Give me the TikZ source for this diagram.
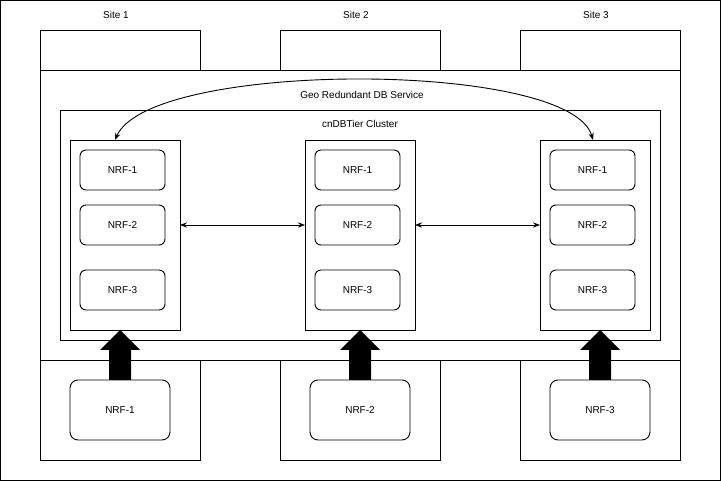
\documentclass[tikz,border=0pt]{standalone}
\usepackage{fontspec}
\setmainfont{Liberation Sans}
\usetikzlibrary{arrows.meta, positioning}

\tikzset{
    nrf/.style = {draw, rounded corners = 6pt, minimum width = 85pt, minimum height = 40pt},
    big/.style = {draw, rounded corners = 8pt, minimum width = 100pt, minimum height = 60pt},
    push/.style = {fill = black}
}

\begin{document}
\begin{tikzpicture}[x = 1pt, y = -1pt, line width = 0.9pt, font = \fontsize{10}{12}\selectfont]
    \useasboundingbox (0,0) rectangle (721,481);
    \draw (0.5,0.5) rectangle (720.5,480.5);

    % sites
    \foreach \i/\x in {1/40, 2/280, 3/520} {
        \node at (\x+76,15) {Site \i};
        \draw (\x,30) rectangle (\x+160,70);
        \draw (\x,360) rectangle (\x+160,460);
    }
    \draw[fill = white] (40,70) rectangle (680,360);
    \node (geo) at (362,95) {Geo Redundant DB Service};
    \draw (60,110) rectangle (660,340);
    \node (cluster) at (360,124) {cnDBTier Cluster};

    % columns
    \foreach \c/\x in {a/70, b/305, c/540} {
        \draw (\x,140) rectangle (\x+110,330);
        \coordinate (\c top) at (\x+55,140);
        \coordinate (\c left) at (\x,225);
        \coordinate (\c right) at (\x+110,225);
        \foreach \n/\y in {1/170, 2/225, 3/290}
            \node[nrf] (\c\n) at (\x+52.5,\y) {NRF-\n};
    }
    \draw[<->, >=Stealth] (aright) -- (bleft);
    \draw[<->, >=Stealth] (bright) -- (cleft);
    \draw[<->, >=Stealth] ([xshift = -10pt]atop) .. controls (150,60) and (570,60) .. ([xshift = -2pt]ctop);

    % local NRFs
    \foreach \i/\x in {1/120, 2/360, 3/600} {
        \node[big] (site\i) at (\x,410) {NRF-\i};
        \fill[push] (\x-11,380) -- (\x-11,350) -- (\x-20,350) -- (\x,330)
            -- (\x+20,350) -- (\x+11,350) -- (\x+11,380) -- cycle;
    }
\end{tikzpicture}
\end{document}
